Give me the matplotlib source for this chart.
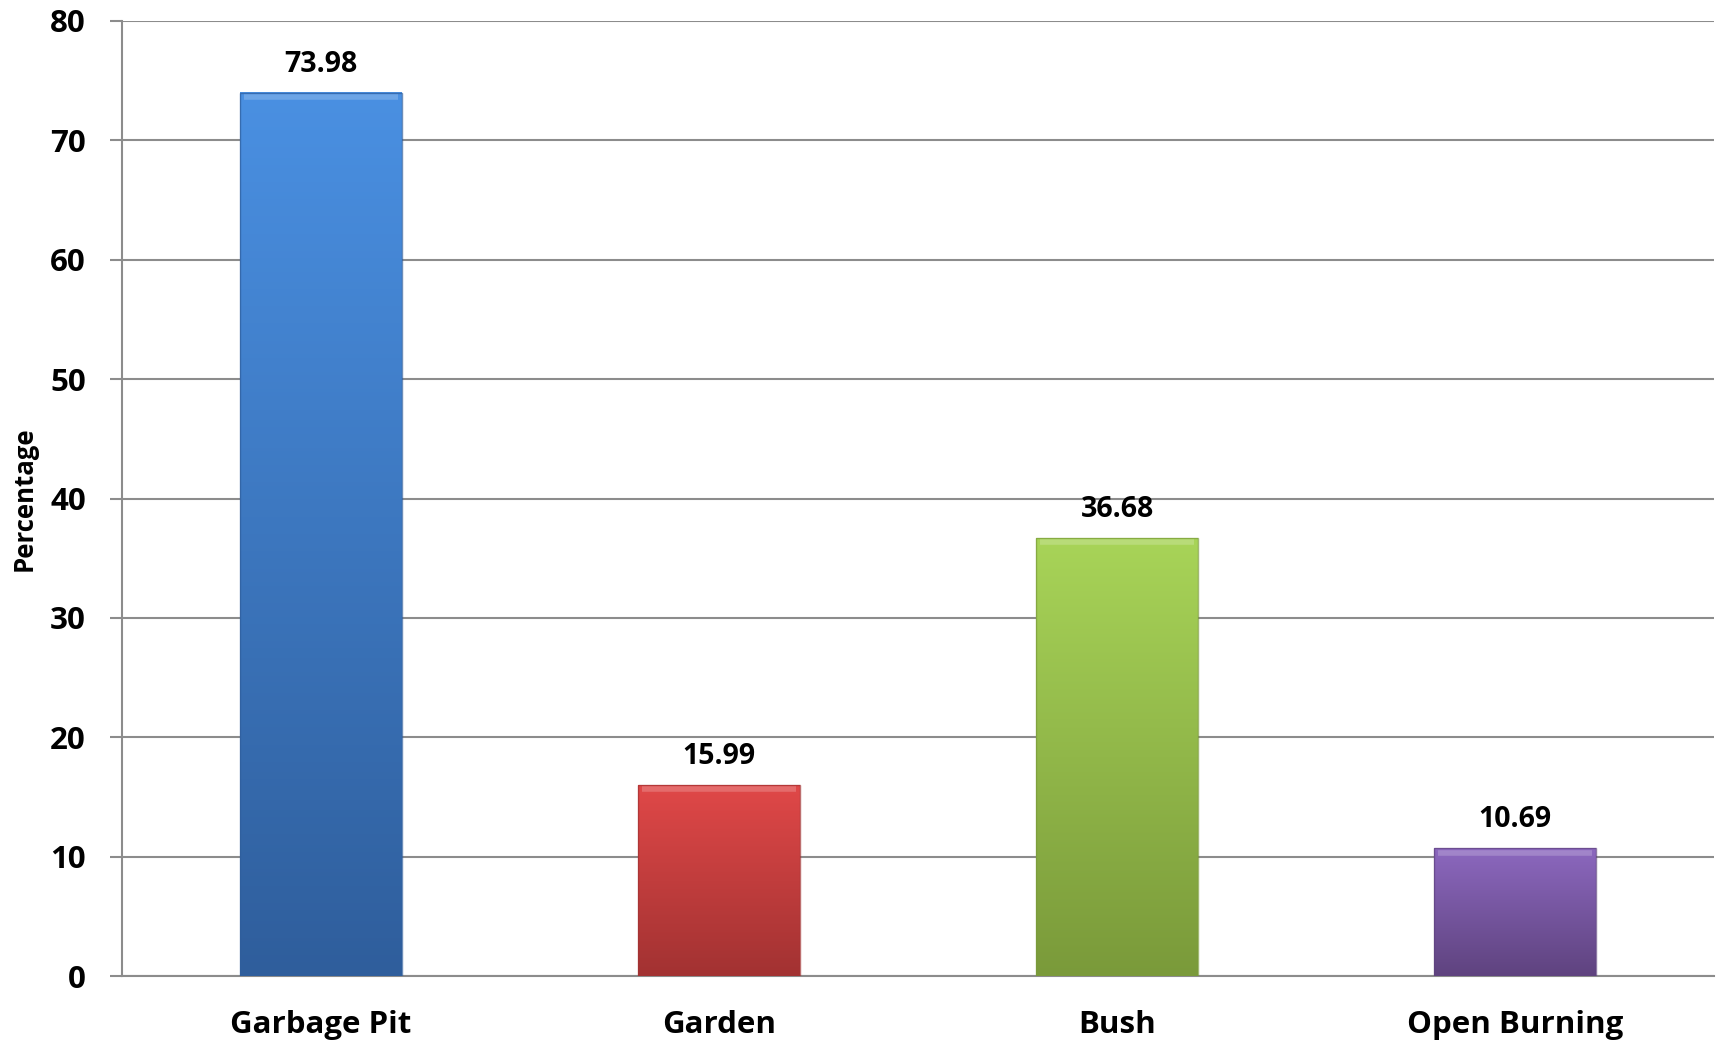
import matplotlib
matplotlib.use("Agg")
import matplotlib.pyplot as plt
import numpy as np
from matplotlib.colors import LinearSegmentedColormap

categories = ["Garbage Pit", "Garden", "Bush", "Open Burning"]
values = [73.98, 15.99, 36.68, 10.69]
labels = ["73.98", "15.99", "36.68", "10.69"]
yticks = [0, 10, 20, 30, 40, 50, 60, 70, 80]

top_colors = ["#4a90e2", "#e04848", "#a8d458", "#8c68bf"]
bot_colors = ["#2f5e9c", "#a23232", "#7a9a3a", "#5f437f"]

plt.rcParams['font.family'] = ['Open Sans', 'DejaVu Sans']
plt.rcParams['font.weight'] = 'bold'

fig = plt.figure(figsize=(17.21, 10.44), dpi=100)
ax = fig.add_axes([122/1721, 1 - 976/1044, (1714-122)/1721, (976-21)/1044])

x = np.arange(len(categories))
bars = ax.bar(x, values, width=0.405, color='none', edgecolor='none', zorder=3)

for b, c1, c2 in zip(bars, top_colors, bot_colors):
    x0, y0 = b.get_x(), b.get_y()
    w, h = b.get_width(), b.get_height()
    cmap = LinearSegmentedColormap.from_list("g", [c2, c1])
    grad = np.linspace(0, 1, 256).reshape(-1, 1)
    ax.imshow(grad, extent=[x0, x0 + w, y0, y0 + h], origin='lower', cmap=cmap,
              aspect='auto', zorder=3)
    # bevel edges
    ax.add_patch(plt.Rectangle((x0, y0), w, h, fill=False, edgecolor=c2, lw=1.0,
                               alpha=0.7, zorder=4))
    ax.plot([x0 + w*0.02, x0 + w*0.98], [y0 + h - 0.35, y0 + h - 0.35], color='white', lw=4,
            alpha=0.2, zorder=4, solid_capstyle='butt')

for xi, v, lab in zip(x, values, labels):
    ax.annotate(lab, (xi, v), xytext=(0, 10), textcoords='offset points',
                ha='center', va='bottom', fontsize=20.5, fontweight='bold', color='black')

ax.set_xlim(-0.5, len(categories) - 0.5)
ax.set_ylim(0, 80)
ax.set_yticks(yticks)
ax.set_yticklabels([str(t) for t in yticks], fontsize=22.5, fontweight='bold')
ax.set_xticks(x)
ax.set_xticklabels(categories, fontsize=22.5, fontweight='bold')
ax.tick_params(axis='x', length=0, pad=24.5)
ax.tick_params(axis='y', length=9, width=1.5, color='#8c8c8c', pad=17)
ax.yaxis.grid(True, color='#8c8c8c', lw=1.5, zorder=0)
ax.set_axisbelow(True)
for s in ['top', 'right']:
    ax.spines[s].set_visible(False)
for s in ['left', 'bottom']:
    ax.spines[s].set_color('#8c8c8c')
    ax.spines[s].set_linewidth(1.5)

ax.set_ylabel("Percentage", fontsize=18.5, fontweight='bold')
ax.yaxis.set_label_coords(-0.053, 0.5)

fig.savefig("out.png", dpi=100, facecolor='white')
